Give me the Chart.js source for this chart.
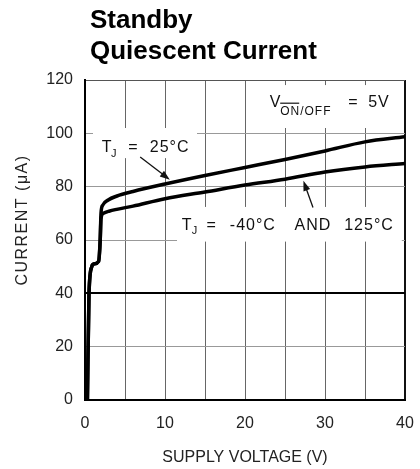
<!DOCTYPE html>
<html>
<head>
<meta charset="utf-8">
<script src="https://cdn.jsdelivr.net/npm/chart.js@4.4.0/dist/chart.umd.min.js"></script>
<style>
  html, body { margin: 0; padding: 0; background: #fff; }
  #wrap { width: 420px; height: 469px; }
</style>
</head>
<body>
<div id="wrap"><canvas id="myChart" width="420" height="469"></canvas></div>
<script>
// supply voltage (V) and standby current (uA)
const voltage25 = [0.3, 0.5, 0.85, 1.1, 1.7, 1.9, 2.0, 2.2, 2.9, 4, 6, 10, 15, 20, 25, 30, 35, 40];
const current25 = [0, 40, 50, 51, 52, 60, 70, 73, 75, 76.5, 78.2, 81, 84.2, 87.2, 90.2, 93.4, 96.8, 98.7];
const voltageHotCold = [0.3, 0.5, 0.85, 1.1, 1.7, 1.9, 2.0, 2.3, 3, 6, 10, 15, 20, 25, 30, 35, 40];
const currentHotCold = [0, 40, 50, 51, 52, 60, 68, 70, 70.8, 72.7, 75.5, 78, 80.6, 82.8, 85.5, 87.4, 88.7];
const xTickLabels = [0, 10, 20, 30, 40];
const yTickLabels = [0, 20, 40, 60, 80, 100, 120];

function toPoints(xs, ys) {
  return xs.map(function (v, i) { return { x: v, y: ys[i] }; });
}

const FONT = "'Liberation Sans', Arial, Helvetica, sans-serif";

function arrow(c, x1, y1, x2, y2) {
  const a = Math.atan2(y2 - y1, x2 - x1);
  c.beginPath();
  c.moveTo(x1, y1);
  c.lineTo(x2 - 6 * Math.cos(a), y2 - 6 * Math.sin(a));
  c.lineWidth = 1.3;
  c.stroke();
  c.beginPath();
  c.moveTo(x2, y2);
  c.lineTo(x2 - 10 * Math.cos(a) + 3.5 * Math.sin(a), y2 - 10 * Math.sin(a) - 3.5 * Math.cos(a));
  c.lineTo(x2 - 10 * Math.cos(a) - 3.5 * Math.sin(a), y2 - 10 * Math.sin(a) + 3.5 * Math.cos(a));
  c.closePath();
  c.fill();
}

const labelsPlugin = {
  id: "curveLabels",
  beforeDatasetsDraw: function (chart) {
    const c = chart.ctx;
    const x = chart.scales.x;
    const y = chart.scales.y;
    const px = function (v) { return x.getPixelForValue(v); };
    const py = function (v) { return y.getPixelForValue(v); };

    c.save();
    // blank out the grid behind the curve labels
    c.fillStyle = "#fff";
    c.fillRect(px(1.0), py(102), px(14) - px(1.0), py(90.7) - py(102));
    c.fillRect(px(21.6), py(118.1), px(39.7) - px(21.6), py(102) - py(118.1));
    c.fillRect(px(11.5), py(72.4), px(39.6) - px(11.5), py(59.4) - py(72.4));

    c.fillStyle = "#111";
    c.strokeStyle = "#111";
    c.textBaseline = "alphabetic";
    c.textAlign = "left";
    c.letterSpacing = "1px";

    // T_J = 25°C
    c.font = "16px " + FONT;
    c.fillText("T", px(2.1), py(93));
    c.fillText("=", px(5.4), py(93));
    c.fillText("25°C", px(8.1), py(93));
    c.font = "11px " + FONT;
    c.fillText("J", px(3.25), py(91.2));
    arrow(c, px(6.9), py(91.1), px(10.6), py(82.6));

    // T_J = -40°C AND 125°C
    c.font = "16px " + FONT;
    c.fillText("T", px(12.1), py(63.8));
    c.fillText("=", px(15.2), py(63.8));
    c.fillText("-40°C", px(18.1), py(63.8));
    c.fillText("AND", px(26.2), py(63.8));
    c.fillText("125°C", px(32.4), py(63.8));
    c.font = "11px " + FONT;
    c.fillText("J", px(13.35), py(62.2));
    arrow(c, px(28.5), py(72.2), px(27.3), py(82.2));

    // V_ON/OFF = 5V
    c.font = "16px " + FONT;
    c.fillText("V", px(23.1), py(110));
    c.fillText("=", px(32.9), py(110));
    c.fillText("5V", px(35.4), py(110));
    c.font = "12px " + FONT;
    c.fillText("ON/OFF", px(24.4), py(107));
    const onW = c.measureText("ON").width;
    c.lineWidth = 1.2;
    c.beginPath();
    c.moveTo(px(24.4), py(111.3));
    c.lineTo(px(24.4) + onW - 1, py(111.3));
    c.stroke();

    c.restore();
  },
  afterDraw: function (chart) {
    const c = chart.ctx;
    const area = chart.chartArea;
    c.save();
    c.fillStyle = "#000";
    c.textAlign = "left";
    c.textBaseline = "alphabetic";
    c.font = "bold 26px " + FONT;
    c.fillText("Standby", 90, 28);
    c.fillText("Quiescent Current", 90, 59);

    c.fillStyle = "#222";
    c.font = "16px " + FONT;
    c.textAlign = "center";
    c.textBaseline = "middle";
    c.fillText("SUPPLY VOLTAGE (V)", (area.left + area.right) / 2, 458);

    c.translate(23, 220);
    c.rotate(-Math.PI / 2);
    c.letterSpacing = "1.5px";
    c.fillText("CURRENT (\u03bcA)", 0, 0);
    c.restore();
  }
};

new Chart(document.getElementById("myChart"), {
  type: "scatter",
  data: {
    datasets: [
      {
        label: "TJ = 25°C",
        data: toPoints(voltage25, current25),
        showLine: true,
        borderColor: "#000",
        borderWidth: 3.5,
        pointRadius: 0,
        cubicInterpolationMode: "monotone"
      },
      {
        label: "TJ = -40°C and 125°C",
        data: toPoints(voltageHotCold, currentHotCold),
        showLine: true,
        borderColor: "#000",
        borderWidth: 3.5,
        pointRadius: 0,
        cubicInterpolationMode: "monotone"
      }
    ]
  },
  options: {
    responsive: false,
    animation: false,
    devicePixelRatio: 1,
    layout: { padding: { top: 80, right: 15, left: 0, bottom: 0 } },
    plugins: {
      legend: { display: false },
      tooltip: { enabled: false }
    },
    scales: {
      x: {
        type: "linear",
        min: 0,
        max: 40,
        afterFit: function (s) {
          s.height = 69;
          s.paddingLeft = 0;
          s.paddingRight = 0;
        },
        ticks: {
          stepSize: 5,
          autoSkip: false,
          maxRotation: 0,
          padding: 14,
          color: "#222",
          font: { family: FONT, size: 16 },
          callback: function (v) { return xTickLabels.indexOf(v) >= 0 ? String(v) : ""; }
        },
        grid: {
          drawTicks: false,
          color: function (ctx) { return ctx.tick && ctx.tick.value === 40 ? "#111" : "#666"; },
          lineWidth: function (ctx) { return ctx.tick && ctx.tick.value === 40 ? 2 : 1; }
        },
        border: { color: "#000", width: 2 }
      },
      y: {
        min: 0,
        max: 120,
        afterFit: function (s) { s.width = 85; },
        ticks: {
          stepSize: 20,
          padding: 12,
          color: "#222",
          font: { family: FONT, size: 16 },
          callback: function (v) { return yTickLabels.indexOf(v) >= 0 ? String(v) : ""; }
        },
        grid: {
          drawTicks: false,
          color: function (ctx) {
            if (!ctx.tick) return "#999";
            if (ctx.tick.value === 40) return "#000";
            if (ctx.tick.value === 120) return "#555";
            return "#999";
          },
          lineWidth: function (ctx) { return ctx.tick && ctx.tick.value === 40 ? 2 : 1; }
        },
        border: { color: "#000", width: 2 }
      }
    }
  },
  plugins: [labelsPlugin]
});
</script>
</body>
</html>
